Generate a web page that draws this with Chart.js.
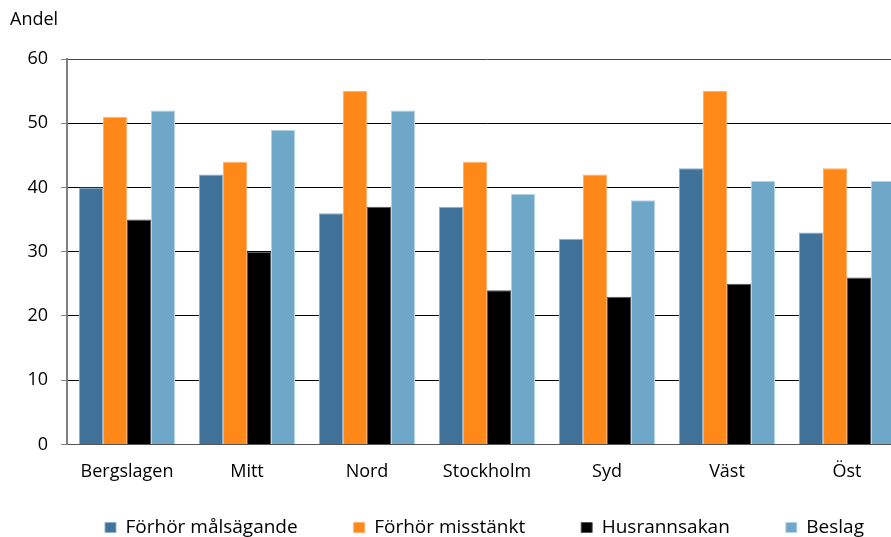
<!DOCTYPE html>
<html>
<head>
<meta charset="utf-8">
<script src="https://cdn.jsdelivr.net/npm/chart.js@4"></script>
<style>
html,body{margin:0;padding:0;overflow:hidden;background:#fff;}
#wrap{width:966px;height:537px;}
</style>
</head>
<body>
<div id="wrap"><canvas id="c" width="966" height="537"></canvas></div>
<script>
const categories = ["Bergslagen", "Mitt", "Nord", "Stockholm", "Syd", "Väst", "Öst"];
const seriesNames = ["Förhör målsägande", "Förhör misstänkt", "Husrannsakan", "Beslag"];
const forhorMalsagande = [40, 42, 36, 37, 32, 43, 33];
const forhorMisstankt = [51, 44, 55, 44, 42, 55, 43];
const husrannsakan = [35, 30, 37, 24, 23, 25, 26];
const beslag = [52, 49, 52, 39, 38, 41, 41];
const yTicks = [0, 10, 20, 30, 40, 50, 60];
const yAxisTitle = "Andel";

const FONT = "'Open Sans', 'Noto Sans', sans-serif";
const colors = ["#41729a", "#ff8819", "#000000", "#6ea7c8"];
const borders = ["#8fb0cb", "#ffb070", "#555555", "#b5d3e4"];
const values = [forhorMalsagande, forhorMisstankt, husrannsakan, beslag];

const axisTitlePlugin = {
  id: 'axisTitle',
  afterLayout(chart) {
    const lg = chart.legend;
    if (lg) {
      const dx = 26, dy = -30;
      lg.left += dx; lg.right += dx;
      lg.top += dy; lg.bottom += dy;
    }
  },
  afterDraw(chart) {
    const ctx = chart.ctx;
    ctx.save();
    ctx.font = "18px " + FONT;
    ctx.fillStyle = '#000';
    ctx.textAlign = 'left';
    ctx.textBaseline = 'middle';
    ctx.fillText(yAxisTitle, 10, 20);
    ctx.restore();
  }
};

new Chart(document.getElementById('c'), {
  type: 'bar',
  data: {
    labels: categories,
    datasets: seriesNames.map((n, i) => ({
      label: n,
      data: values[i],
      backgroundColor: colors[i],
      borderColor: borders[i],
      borderWidth: 1,
      categoryPercentage: 0.8,
      barPercentage: 1.0
    }))
  },
  plugins: [axisTitlePlugin],
  options: {
    responsive: false,
    animation: false,
    devicePixelRatio: 1,
    layout: { padding: { left: 10, right: 59, top: 59, bottom: -40 } },
    plugins: {
      title: { display: false },
      legend: {
        position: 'bottom',
        labels: {
          boxWidth: 11, boxHeight: 10, padding: 56, color: '#000',
          font: { family: FONT, size: 19 }
        }
      },
      tooltip: { enabled: false }
    },
    scales: {
      x: {
        grid: { display: false },
        border: { display: true, color: '#555', width: 1 },
        ticks: { color: '#000', font: { family: FONT, size: 18 }, padding: 9, maxRotation: 0 }
      },
      y: {
        min: 0, max: 60,
        afterBuildTicks: (s) => { s.ticks = yTicks.map(v => ({ value: v })); },
        afterFit: (s) => { s.width = 57; },
        grid: {
          color: (ctx) => (ctx.tick && (ctx.tick.value === 60 || ctx.tick.value === 0)) ? '#444' : '#000',
          lineWidth: 1,
          drawTicks: true, tickLength: 6, tickColor: '#808080'
        },
        border: { display: true, color: '#808080', width: 2 },
        ticks: { color: '#000', font: { family: FONT, size: 18 }, padding: 13 }
      }
    }
  }
});
</script>
</body>
</html>
